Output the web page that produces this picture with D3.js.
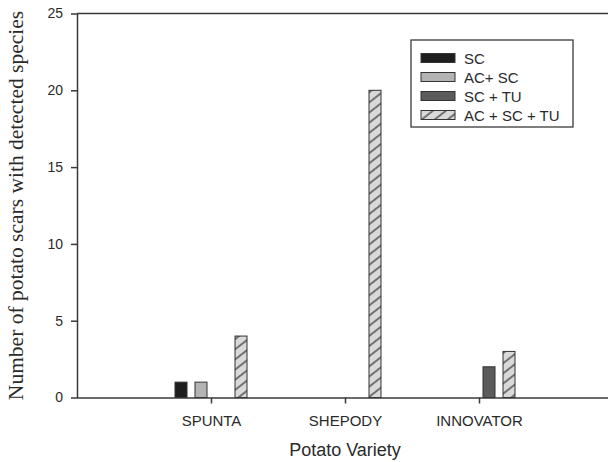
<!DOCTYPE html>
<html>
<head>
<meta charset="utf-8">
<script src="https://cdn.jsdelivr.net/npm/d3@7"></script>
<style>
  body { margin: 0; background: #fff; }
  svg { display: block; }
  .tick text { font-family: "Liberation Sans", Arial, sans-serif; fill: #2a2a2a; }
</style>
</head>
<body>
<div id="chart"></div>
<script>
const varieties = ["SPUNTA", "SHEPODY", "INNOVATOR"];
const seriesNames = ["SC", "AC+ SC", "SC + TU", "AC + SC + TU"];
const sc = [1, 0, 0];
const acSc = [1, 0, 0];
const scTu = [0, 0, 2];
const acScTu = [4, 20, 3];
const yTicks = [0, 5, 10, 15, 20, 25];

const seriesValues = [sc, acSc, scTu, acScTu];
const fills = ["#1e1e1e", "#b4b4b4", "#5b5b5b", "url(#hatch)"];

const width = 608;
const height = 462;
const margin = { top: 13.5, right: -5, bottom: 64.5, left: 77 };

const svg = d3.select("#chart")
  .append("svg")
  .attr("width", width)
  .attr("height", height);

const defs = svg.append("defs");
const pat = defs.append("pattern")
  .attr("id", "hatch")
  .attr("patternUnits", "userSpaceOnUse")
  .attr("width", 8)
  .attr("height", 8)
  .attr("patternTransform", "rotate(-38)");
pat.append("rect").attr("width", 8).attr("height", 8).attr("fill", "#d9d9d9");
pat.append("line")
  .attr("x1", 0).attr("x2", 8).attr("y1", 4).attr("y2", 4)
  .attr("stroke", "#3a3a3a").attr("stroke-width", 1.3);

const x = d3.scalePoint()
  .domain(varieties)
  .range([margin.left, width - margin.right])
  .padding(1);

const inner = d3.scaleBand()
  .domain(seriesNames)
  .range([-40, 40])
  .paddingInner(0.4)
  .paddingOuter(0.2);

const y = d3.scaleLinear()
  .domain([0, 25])
  .range([height - margin.bottom, margin.top]);

// top frame line
svg.append("line")
  .attr("x1", margin.left).attr("x2", width)
  .attr("y1", y(25)).attr("y2", y(25))
  .attr("stroke", "#3a3a3a").attr("stroke-width", 1.5);

// bars
const rows = [];
varieties.forEach((v, i) => {
  seriesNames.forEach((s, j) => {
    rows.push({ variety: v, series: s, value: seriesValues[j][i], fill: fills[j] });
  });
});

svg.append("g")
  .selectAll("rect")
  .data(rows.filter((d) => d.value > 0))
  .join("rect")
  .attr("x", (d) => x(d.variety) + inner(d.series))
  .attr("y", (d) => y(d.value))
  .attr("width", inner.bandwidth())
  .attr("height", (d) => y(0) - y(d.value))
  .attr("fill", (d) => d.fill)
  .attr("stroke", "#333")
  .attr("stroke-width", 1);

// axes
const xAxis = svg.append("g")
  .attr("transform", `translate(0,${y(0)})`)
  .call(d3.axisBottom(x).tickSize(6).tickSizeOuter(0).tickPadding(12));
xAxis.select(".domain").attr("d", `M${margin.left},0.5H${width}`);
xAxis.selectAll("line, path").attr("stroke", "#3a3a3a").attr("stroke-width", 1.5);
xAxis.selectAll("text").attr("font-size", 15);

const yAxis = svg.append("g")
  .attr("transform", `translate(${margin.left},0)`)
  .call(d3.axisLeft(y).tickValues(yTicks).tickSize(6).tickSizeOuter(0).tickPadding(8));
yAxis.selectAll("line, path").attr("stroke", "#3a3a3a").attr("stroke-width", 1.5);
yAxis.selectAll("text").attr("font-size", 14);

// axis titles
svg.append("text")
  .attr("x", x("SHEPODY"))
  .attr("y", 456)
  .attr("text-anchor", "middle")
  .attr("font-family", "Liberation Sans, Arial, sans-serif")
  .attr("font-size", 18)
  .attr("fill", "#2a2a2a")
  .text("Potato Variety");

svg.append("text")
  .attr("transform", `translate(23,${(y(0) + y(25)) / 2}) rotate(-90)`)
  .attr("text-anchor", "middle")
  .attr("font-family", "Liberation Serif, Times New Roman, serif")
  .attr("font-size", 21.5)
  .attr("fill", "#2a2a2a")
  .text("Number of potato scars with detected species");

// legend
const legend = svg.append("g").attr("transform", "translate(411,40)");
legend.append("rect")
  .attr("width", 162).attr("height", 87)
  .attr("fill", "#fff").attr("stroke", "#3a3a3a").attr("stroke-width", 1.3);

const item = legend.selectAll(".item")
  .data(seriesNames)
  .join("g")
  .attr("class", "item")
  .attr("transform", (d, i) => `translate(10,${18 + i * 19})`);

item.append("rect")
  .attr("y", -4.5)
  .attr("width", 34)
  .attr("height", 9)
  .attr("fill", (d, i) => fills[i])
  .attr("stroke", "#333")
  .attr("stroke-width", 1);

item.append("text")
  .attr("x", 43)
  .attr("y", 5.5)
  .attr("font-family", "Liberation Sans, Arial, sans-serif")
  .attr("font-size", 15)
  .attr("fill", "#2a2a2a")
  .text((d) => d);
</script>
</body>
</html>
